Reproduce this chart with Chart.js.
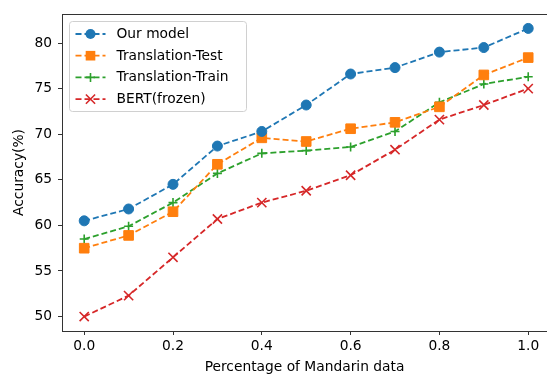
<!DOCTYPE html>
<html>
<head>
<meta charset="utf-8">
<script src="https://cdn.jsdelivr.net/npm/chart.js@4/dist/chart.umd.min.js"></script>
<style>
  html, body { margin: 0; padding: 0; background: #fff; overflow: hidden; }
  #chart { display: block; }
</style>
</head>
<body>
<canvas id="chart" width="547" height="376"></canvas>
<script>
// data
const fractions = [0.0, 0.1, 0.2, 0.3, 0.4, 0.5, 0.6, 0.7, 0.8, 0.9, 1.0];
const ourModel = [60.5, 61.8, 64.5, 68.7, 70.3, 73.2, 76.6, 77.3, 79.0, 79.5, 81.6];
const translationTest = [57.5, 58.9, 61.5, 66.7, 69.6, 69.2, 70.6, 71.3, 73.0, 76.5, 78.4];
const translationTrain = [58.5, 59.9, 62.5, 65.7, 67.9, 68.2, 68.6, 70.3, 73.5, 75.5, 76.3];
const bertFrozen = [50.0, 52.3, 56.5, 60.7, 62.5, 63.8, 65.5, 68.3, 71.6, 73.2, 75.0];
const xTicks = [0.0, 0.2, 0.4, 0.6, 0.8, 1.0];
const yTicks = [50, 55, 60, 65, 70, 75, 80];

const FONT = 'DejaVu Sans';
const FSIZE = 13.8;
const DASH = [6, 3];

function series(label, values, color, style, radius, bw) {
    return {
        label: label,
        data: values.map((v, i) => ({ x: fractions[i], y: v })),
        borderColor: color,
        backgroundColor: color,
        borderWidth: 1.8,
        borderDash: DASH,
        pointStyle: style,
        pointRadius: radius,
        pointHoverRadius: radius,
        pointBorderWidth: bw,
        pointBackgroundColor: color,
        pointBorderColor: color,
        tension: 0
    };
}

// marker drawn by hand for the legend
function marker(ctx, style, x, y, r, color, bw) {
    ctx.save();
    ctx.fillStyle = color;
    ctx.strokeStyle = color;
    ctx.lineWidth = bw;
    ctx.setLineDash([]);
    ctx.beginPath();
    if (style === 'circle') {
        ctx.arc(x, y, r, 0, Math.PI * 2);
        ctx.fill();
    } else if (style === 'rect') {
        const s = r * Math.SQRT1_2;
        ctx.fillRect(x - s, y - s, 2 * s, 2 * s);
    } else if (style === 'cross') {
        ctx.moveTo(x - r, y); ctx.lineTo(x + r, y);
        ctx.moveTo(x, y - r); ctx.lineTo(x, y + r);
        ctx.stroke();
    } else if (style === 'crossRot') {
        const s = r * Math.SQRT1_2;
        ctx.moveTo(x - s, y - s); ctx.lineTo(x + s, y + s);
        ctx.moveTo(x - s, y + s); ctx.lineTo(x + s, y - s);
        ctx.stroke();
    }
    ctx.restore();
}

const framePlugin = {
    id: 'frame',
    afterDraw(chart) {
        const ctx = chart.ctx;
        const a = chart.chartArea;
        ctx.save();
        // the right edge of the axes is cut off in the figure: keep it blank
        ctx.fillStyle = '#fff';
        ctx.fillRect(a.right - 2, a.top + 1, 2, a.bottom - a.top - 1);

        // top spine
        ctx.strokeStyle = '#333';
        ctx.lineWidth = 1;
        ctx.beginPath();
        ctx.moveTo(a.left, a.top + 0.5);
        ctx.lineTo(a.right, a.top + 0.5);
        ctx.stroke();

        // legend box in upper left
        const bx = a.left + 7.5, by = a.top + 7.5, bw = 177, bh = 90;
        ctx.beginPath();
        ctx.roundRect(bx, by, bw, bh, 3);
        ctx.fillStyle = 'rgba(255,255,255,0.8)';
        ctx.fill();
        ctx.strokeStyle = '#d0d0d0';
        ctx.lineWidth = 1;
        ctx.stroke();

        ctx.font = FSIZE + 'px "' + FONT + '"';
        ctx.textBaseline = 'middle';
        chart.data.datasets.forEach((ds, i) => {
            const y = by + 12.5 + i * 21.7;
            ctx.strokeStyle = ds.borderColor;
            ctx.lineWidth = ds.borderWidth;
            ctx.setLineDash(DASH);
            ctx.beginPath();
            ctx.moveTo(bx + 6, y);
            ctx.lineTo(bx + 36, y);
            ctx.stroke();
            ctx.setLineDash([]);
            marker(ctx, ds.pointStyle, bx + 21, y, ds.pointRadius, ds.borderColor, ds.pointBorderWidth);
            ctx.fillStyle = '#000';
            ctx.fillText(ds.label, bx + 47, y + 0.5);
        });
        ctx.restore();
    }
};

new Chart(document.getElementById('chart'), {
    type: 'line',
    data: {
        datasets: [
            series('Our model', ourModel, '#1f77b4', 'circle', 5, 1),
            series('Translation-Test', translationTest, '#ff7f0e', 'rect', 6.8, 1),
            series('Translation-Train', translationTrain, '#2ca02c', 'cross', 4.5, 1.6),
            series('BERT(frozen)', bertFrozen, '#d62728', 'crossRot', 6.5, 1.6)
        ]
    },
    options: {
        responsive: false,
        animation: false,
        layout: { autoPadding: false, padding: { top: 14, right: 0, left: 0, bottom: 0 } },
        plugins: {
            legend: { display: false },
            tooltip: { enabled: false }
        },
        scales: {
            x: {
                type: 'linear',
                min: -0.05,
                max: 1.0423,
                afterFit(scale) {
                    scale.height = 45;
                    scale.paddingLeft = 0;
                    scale.paddingRight = 0;
                },
                afterBuildTicks(scale) { scale.ticks = xTicks.map(v => ({ value: v })); },
                grid: { display: true, drawOnChartArea: false, tickLength: 4, tickColor: '#333', tickWidth: 1 },
                border: { display: true, color: '#333', width: 1 },
                ticks: {
                    color: '#000',
                    padding: 3,
                    maxRotation: 0,
                    font: { family: FONT, size: FSIZE },
                    callback: v => v.toFixed(1)
                },
                title: {
                    display: true,
                    text: 'Percentage of Mandarin data',
                    color: '#000',
                    font: { family: FONT, size: FSIZE },
                    padding: { top: 0, bottom: 0 }
                }
            },
            y: {
                min: 48.42,
                max: 83.18,
                afterFit(scale) {
                    scale.width = 62;
                    scale.paddingTop = 0;
                    scale.paddingBottom = 0;
                },
                afterBuildTicks(scale) { scale.ticks = yTicks.map(v => ({ value: v })); },
                grid: { display: true, drawOnChartArea: false, tickLength: 4, tickColor: '#333', tickWidth: 1 },
                border: { display: true, color: '#333', width: 1 },
                ticks: {
                    color: '#000',
                    padding: 6,
                    font: { family: FONT, size: FSIZE },
                    callback: v => String(v)
                },
                title: {
                    display: true,
                    text: 'Accuracy(%)',
                    color: '#000',
                    font: { family: FONT, size: FSIZE },
                    padding: { top: 11, bottom: 0 }
                }
            }
        }
    },
    plugins: [framePlugin]
});
</script>
</body>
</html>
